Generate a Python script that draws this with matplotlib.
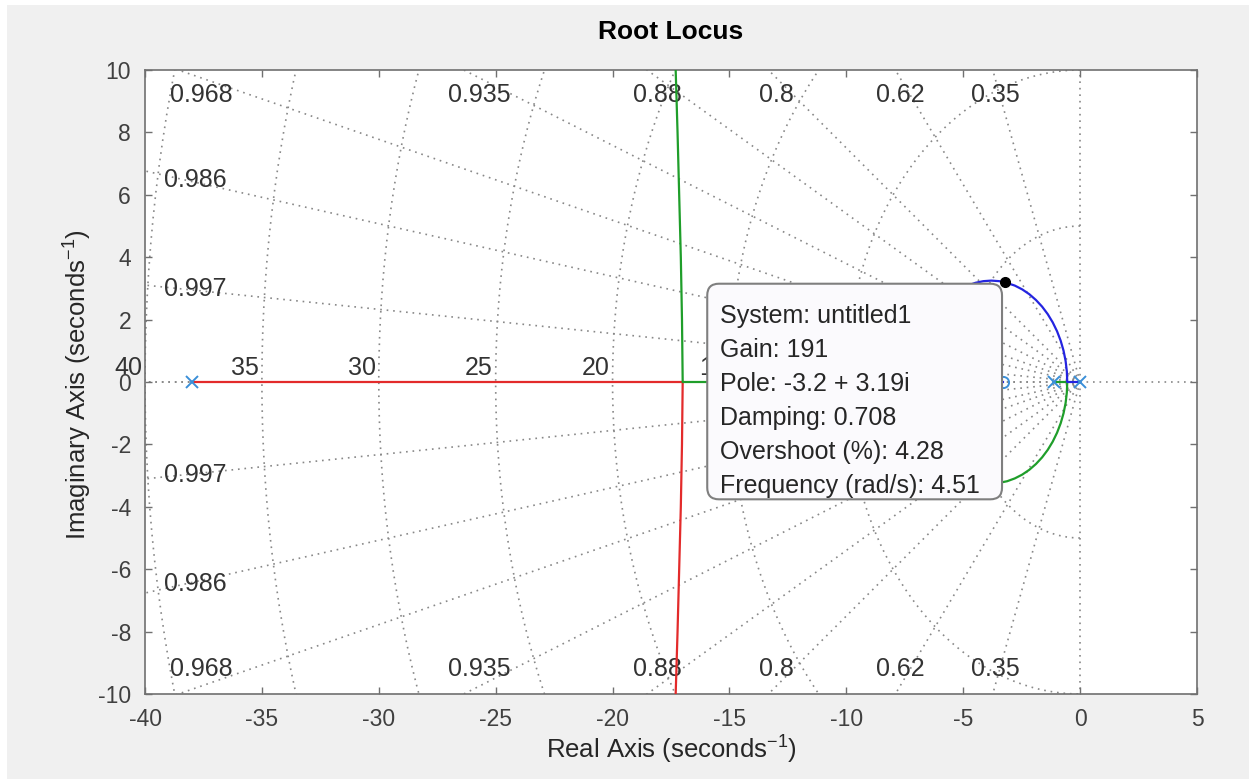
import matplotlib
matplotlib.use('Agg')
import matplotlib.pyplot as plt
from matplotlib.patches import FancyBboxPatch, Rectangle
import numpy as np

plt.rcParams.update({
    'font.family': 'Liberation Sans',
    'mathtext.fontset': 'custom',
    'mathtext.rm': 'Liberation Sans',
    'mathtext.it': 'Liberation Sans:italic',
    'mathtext.bf': 'Liberation Sans:bold',
    'axes.unicode_minus': False,
})

# s-plane grid: damping ratios and natural frequencies
ZETAS = [0.35, 0.62, 0.8, 0.88, 0.935, 0.968, 0.986, 0.997]
ZETA_TOP = [0.968, 0.935, 0.88, 0.8, 0.62, 0.35]
ZETA_SIDE = [0.986, 0.997]
WN = [5, 10, 15, 20, 25, 30, 35, 40]
WN_LABELS = [15, 20, 25, 30, 35, 40]

# open-loop poles and zeros (real axis)
POLES = [-38.0, -1.1, 0.0]
ZEROS = [-3.3]

# locus branches
red_re = [-38.0, -17.0, -17.03, -17.08, -17.15, -17.22, -17.3]
red_im = [0.0, 0.0, -2.0, -4.0, -6.0, -8.0, -10.0]

green_re = [-1.1, -0.55, -0.568, -0.621, -0.709, -0.831, -0.986, -1.171, -1.385,
            -1.625, -1.89, -2.175, -2.478, -2.796, -3.12, -3.46, -3.8, -4.14,
            -4.476, -4.804, -5.425, -5.975, -6.429, -6.769, -6.979, -7.05,
            -17.0, -17.03, -17.08, -17.15, -17.22, -17.3]
green_im = [0.0, 0.0, -0.34, -0.676, -1.004, -1.322, -1.625, -1.91, -2.175,
            -2.415, -2.629, -2.815, -2.969, -3.091, -3.18, -3.232, -3.25, -3.232,
            -3.179, -3.091, -2.815, -2.415, -1.91, -1.322, -0.676, 0.0,
            0.0, 2.0, 4.0, 6.0, 8.0, 10.0]

blue_re = [0.0, -0.55, -0.568, -0.621, -0.709, -0.831, -0.986, -1.171, -1.385,
           -1.625, -1.89, -2.175, -2.478, -2.796, -3.2, -3.46, -3.8, -4.14,
           -4.476, -4.804, -5.425, -5.975, -6.429, -6.769, -6.979, -7.05, -3.3]
blue_im = [0.0, 0.0, 0.34, 0.676, 1.004, 1.322, 1.625, 1.91, 2.175,
           2.415, 2.629, 2.815, 2.969, 3.091, 3.19, 3.232, 3.25, 3.232,
           3.179, 3.091, 2.815, 2.415, 1.91, 1.322, 0.676, 0.0, 0.0]

# selected point
SYS_NAME = 'untitled1'
GAIN = 191
POLE_RE, POLE_IM = -3.2, 3.19
DAMPING = 0.708
OVERSHOOT = 4.28
FREQ = 4.51

W, H = 1249, 779
fig = plt.figure(figsize=(W / 100, H / 100), dpi=100)
fig.patch.set_facecolor('white')
fig.patches.append(Rectangle((7 / W, 0), 1, 1 - 5 / H, transform=fig.transFigure,
                             facecolor='#f0f0f0', edgecolor='none', zorder=-10))

ax = fig.add_axes([145 / W, 85 / H, 1052 / W, 624 / H])
ax.set_facecolor('white')
ax.set_xlim(-40, 5)
ax.set_ylim(-10, 10)

# grid lines
gkw = dict(color='#888888', lw=1.2, linestyle=(0, (1, 2.9)), zorder=1)
R = 60
for z in ZETAS + [0.0, 1.0]:
    th = np.arccos(z)
    for s in (1, -1):
        ax.plot([0, -R * np.cos(th)], [0, s * R * np.sin(th)], **gkw)
ax.plot([0, R], [0, 0], **gkw)
t = np.linspace(np.pi / 2, 3 * np.pi / 2, 300)
for wn in WN:
    ax.plot(wn * np.cos(t), wn * np.sin(t), **gkw)

lab_kw = dict(fontsize=18, color='#333333', zorder=1.5)
for z in ZETA_TOP:
    cot = z / np.sqrt(1 - z ** 2)
    for s in (1, -1):
        ax.text(-9.75 * cot, s * 9.2, f'{z:g}', ha='center', va='center', **lab_kw)
for z in ZETA_SIDE:
    tn = np.sqrt(1 - z ** 2) / z
    for s in (1, -1):
        ax.text(-37.85, s * tn * 38.2, f'{z:g}', ha='center', va='center', **lab_kw)
for wn in WN_LABELS:
    ax.annotate(f'{wn}', (-wn, 0), xytext=(-2, 5), textcoords='offset points',
                ha='right', va='baseline', annotation_clip=False, **lab_kw)

# root locus
ax.plot(red_re, red_im, color='#e32b2b', lw=1.6, zorder=3)
ax.plot(green_re, green_im, color='#1f9e2a', lw=1.6, zorder=3)
ax.plot(blue_re, blue_im, color='#2424e0', lw=1.6, zorder=3)
ax.plot(POLES, [0] * len(POLES), 'x', color='#3a8fd8', ms=9, mew=1.4, zorder=4)
ax.plot(ZEROS, [0] * len(ZEROS), 'o', color='#3a8fd8', mfc='none', ms=8, mew=1.4, zorder=4)
ax.plot([POLE_RE], [POLE_IM], 'o', color='black', ms=7, zorder=12)

# data tip
box = FancyBboxPatch((-15.95, -3.76), 12.61, 6.91,
                     boxstyle='round,pad=0,rounding_size=0.5', mutation_aspect=0.75,
                     facecolor='#fbfafd', edgecolor='#7f7f7f', lw=1.5, zorder=10)
ax.add_patch(box)
tip = '\n'.join([
    f'System: {SYS_NAME}',
    f'Gain: {GAIN}',
    f'Pole: {POLE_RE:g} + {POLE_IM:g}i',
    f'Damping: {DAMPING:g}',
    f'Overshoot (%): {OVERSHOOT:g}',
    f'Frequency (rad/s): {FREQ:g}',
])
ax.text(-15.42, -0.61, tip, ha='left', va='center', fontsize=18, color='#262626',
        linespacing=1.53, zorder=11)

# axes styling
ax.set_xticks(np.arange(-40, 6, 5))
ax.set_yticks(np.arange(-10, 11, 2))
ax.tick_params(direction='in', length=5, width=1, color='#707070', top=True, right=True,
               labelsize=16.5, labelcolor='#404040', pad=10)
for sp in ax.spines.values():
    sp.set_color('#707070')
    sp.set_linewidth(1.2)

cx = (145 + 1197) / 2 / W
fig.text(cx, 1 - 32 / H, 'Root Locus', ha='center', va='center', fontsize=19,
         fontweight='bold', color='black')
fig.text(cx, 1 - 750 / H, 'Real Axis (seconds$^{-1}$)', ha='center', va='center',
         fontsize=18.5, color='#262626')
fig.text(78 / W, 1 - 385 / H, 'Imaginary Axis (seconds$^{-1}$)', ha='center', va='center',
         rotation=90, fontsize=18.5, color='#262626')

fig.savefig('out.png', dpi=100, facecolor=fig.get_facecolor())
